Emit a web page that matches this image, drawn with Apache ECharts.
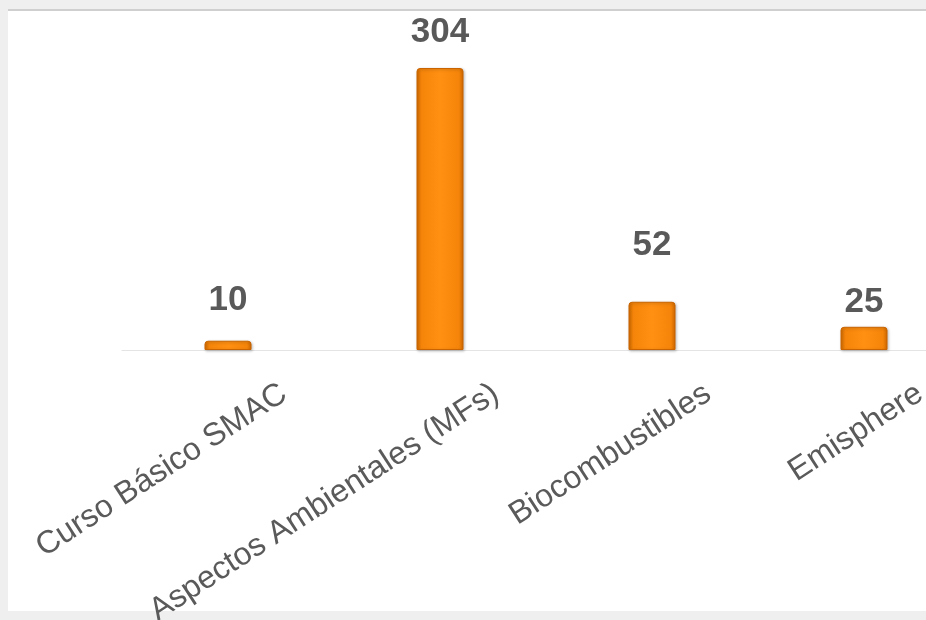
<!DOCTYPE html>
<html>
<head>
<meta charset="utf-8">
<script src="https://cdn.jsdelivr.net/npm/echarts@6/dist/echarts.min.js"></script>
<style>
  html, body { margin: 0; padding: 0; width: 926px; height: 620px; overflow: hidden; background: #efefef; }
  #panel { position: absolute; left: 8px; top: 9px; width: 918px; height: 602px; background: #ffffff; border-top: 2px solid #cfcfcf; box-sizing: border-box; }
  #chart { position: absolute; left: 0; top: 0; width: 1100px; height: 620px; }
</style>
</head>
<body>
<div id="panel"></div>
<div id="chart"></div>
<script>
// ---- data ----
const categories = ['Curso Básico SMAC', 'Aspectos Ambientales (MFs)', 'Biocombustibles', 'Emisphere'];
const values = [10, 304, 52, 25];

// ---- style (per-bar label distance, px) ----
const labelDistances = [23, 18, 39, 7];

const chart = echarts.init(document.getElementById('chart'), null, { renderer: 'canvas' });

const barColor = {
  type: 'linear', x: 0, y: 0, x2: 1, y2: 0,
  colorStops: [
    { offset: 0, color: '#D46C00' },
    { offset: 0.1, color: '#F5850A' },
    { offset: 0.5, color: '#FF9012' },
    { offset: 0.9, color: '#F5850A' },
    { offset: 1, color: '#CF6800' }
  ]
};

const seriesData = values.map((v, i) => ({
  value: v,
  label: { distance: labelDistances[i] }
}));

chart.setOption({
  animation: false,
  backgroundColor: 'transparent',
  grid: [
    { left: 122, width: 848, top: 25.33, bottom: 270, containLabel: false, outerBoundsMode: 'none' },
    { left: 178, width: 848, top: 25.33, bottom: 270, containLabel: false, outerBoundsMode: 'none' }
  ],
  xAxis: [
    {
      type: 'category', gridIndex: 0, data: categories,
      axisLine: { show: true, lineStyle: { color: '#e4e4e4', width: 1 } },
      axisTick: { show: false },
      axisLabel: { show: false },
      splitLine: { show: false }
    },
    {
      type: 'category', gridIndex: 1, data: categories,
      axisLine: { show: false },
      axisTick: { show: false },
      splitLine: { show: false },
      axisLabel: {
        show: true, interval: 0, rotate: 33, margin: 41,
        fontFamily: 'Liberation Sans', fontSize: 32, color: '#5a5a5a'
      }
    }
  ],
  yAxis: [
    { type: 'value', gridIndex: 0, min: 0, max: 350, show: false },
    { type: 'value', gridIndex: 1, min: 0, max: 350, show: false }
  ],
  series: [{
    type: 'bar',
    xAxisIndex: 0, yAxisIndex: 0,
    data: seriesData,
    barWidth: 47,
    itemStyle: {
      color: barColor,
      borderColor: '#C96400',
      borderWidth: 1,
      borderRadius: [3, 3, 0, 0],
      shadowColor: 'rgba(0,0,0,0.25)',
      shadowBlur: 3,
      shadowOffsetX: 1,
      shadowOffsetY: 1
    },
    label: {
      show: true, position: 'top',
      fontFamily: 'Liberation Sans', fontWeight: 'bold', fontSize: 35, color: '#595959'
    }
  }]
});
</script>
</body>
</html>
